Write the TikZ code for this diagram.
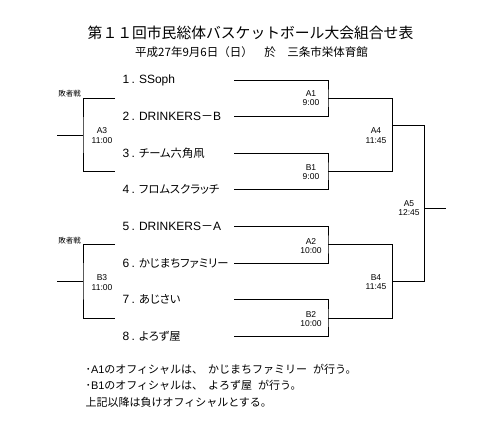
\documentclass[tikz,border=0pt]{standalone}
\usepackage{fontspec}
\setmainfont{Liberation Sans}
\newfontfamily\jp{Noto Sans CJK JP}
\newfontfamily\jpp[RawFeature=+palt]{Noto Sans CJK JP}
\newcommand\jteam{\jpp\fontsize{11.3}{13}\selectfont}
\begin{document}
\begin{tikzpicture}[x=1pt,y=-1pt,line width=1pt,
  team/.style={anchor=west,inner sep=0pt,font=\fontsize{12}{14}\selectfont},
  game/.style={align=center,inner sep=0pt,font=\fontsize{8.5}{9.5}\selectfont},
  loser/.style={inner sep=0pt,font=\jp\fontsize{7.5}{8}\selectfont},
  note/.style={anchor=west,inner sep=0pt,font=\jp\fontsize{11}{12}\selectfont}]
  \useasboundingbox (0,0) rectangle (500,431);
  % Title
  \node[font=\jp\fontsize{14.8}{16}\selectfont] (title) at (250.5,33) {第１１回市民総体バスケットボール大会組合せ表};
  \node[font=\jp\fontsize{11.5}{13}\selectfont] (date) at (251.5,52) {平成27年9月6日（日）　於　三条市栄体育館};
  % Teams
  \foreach \i/\y/\name in {1/80/SSoph, 2/116.6/DRINKERS{\jp －}B, 3/153.2/{\jteam チーム六角凧},
      4/189.8/{\jteam フロムスクラッチ}, 5/226.4/DRINKERS{\jp －}A, 6/263/{\jteam かじまちファミリー},
      7/299.6/{\jteam あじさい}, 8/336.2/{\jteam よろず屋}} {
    \node[team] (team\i) at (122,\y) {\i\kern2.5pt.\kern4pt\name};
    \coordinate (s\i) at (234,\y);
  }
  % Game points
  \coordinate (a1) at (328,98);
  \coordinate (b1) at (328,171);
  \coordinate (a2) at (328,244);
  \coordinate (b2) at (328,318);
  \coordinate (a4) at (392,125);
  \coordinate (b4) at (392,281);
  \coordinate (a5) at (424,208);
  \coordinate (win) at (446,208);
  % First round
  \draw (s1) -| (a1) |- (s2);
  \draw (s3) -| (b1) |- (s4);
  \draw (s5) -| (a2) |- (s6);
  \draw (s7) -| (b2) |- (s8);
  % Second round and final
  \draw (a1) -- (a1 -| a4) |- (b1);
  \draw (a2) -- (a2 -| b4) |- (b2);
  \draw (a4) -- (a4 -| a5) |- (b4);
  \draw (a5) -- (win);
  % Loser games
  \coordinate (a3) at (83,135);
  \coordinate (a3out) at (57,135);
  \coordinate (b3) at (83,281);
  \coordinate (b3out) at (57,281);
  \draw (115,98) -| (a3) |- (115,171);
  \draw (115,244) -| (b3) |- (115,318);
  \draw (a3) -- (a3out);
  \draw (b3) -- (b3out);
  \node[loser] (lose1) at (69.5,94) {敗者戦};
  \node[loser] (lose2) at (69.5,241) {敗者戦};
  % Game labels
  \foreach \n/\x/\y/\t in {ga1/311/98/A1\\9:00, gb1/311/172/B1\\9:00,
      ga2/311/246/A2\\10:00, gb2/311/319/B2\\10:00,
      ga4/376/135.5/A4\\11:45, gb4/376/282/B4\\11:45,
      ga5/409/208/A5\\12:45, ga3/102/135.5/A3\\11:00, gb3/102/282.5/B3\\11:00}
    \node[game] (\n) at (\x,\y) {\t};
  % Notes
  \node[note] (n1) at (85,369) {･{\rmfamily A1}のオフィシャルは、\hspace{5pt}かじまちファミリー\hspace{6pt}が行う。};
  \node[note] (n2) at (85,385) {･{\rmfamily B1}のオフィシャルは、\hspace{5pt}よろず屋\hspace{6pt}が行う。};
  \node[note] (n3) at (85,402) {上記以降は負けオフィシャルとする。};
\end{tikzpicture}
\end{document}
